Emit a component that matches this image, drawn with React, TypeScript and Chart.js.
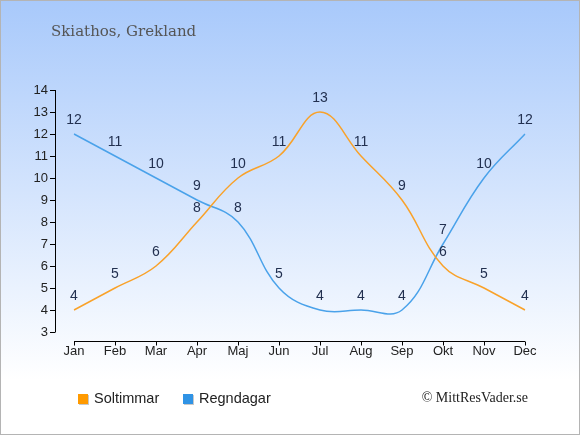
import React, { useEffect, useRef } from 'react';
import { Chart, registerables } from 'chart.js';

Chart.register(...registerables);

const months = ['Jan', 'Feb', 'Mar', 'Apr', 'Maj', 'Jun', 'Jul', 'Aug', 'Sep', 'Okt', 'Nov', 'Dec'];
const soltimmar = [4, 5, 6, 8, 10, 11, 13, 11, 9, 6, 5, 4];
const regndagar = [12, 11, 10, 9, 8, 5, 4, 4, 4, 7, 10, 12];
const yMin = 3;
const yMax = 14;
const titleText = 'Skiathos, Grekland';
const legendLabels = ['Soltimmar', 'Regndagar'];
const creditText = '\u00A9 MittResVader.se';

const ORANGE = '#f9a22a';
const BLUE = '#4aa2ea';
const LEGEND_ORANGE = '#ff9a00';
const LEGEND_BLUE = '#2f93e5';

const W = 580;
const H = 435;

const decorPlugin = {
  id: 'decor',
  beforeDraw(chart: any) {
    const ctx = chart.ctx;
    ctx.save();
    const g = ctx.createLinearGradient(0, 0, 0, 380);
    g.addColorStop(0, '#a8c9fb');
    g.addColorStop(1, '#ffffff');
    ctx.fillStyle = g;
    ctx.fillRect(0, 0, W, H);
    ctx.strokeStyle = '#b4b4b4';
    ctx.lineWidth = 1;
    ctx.strokeRect(0.5, 0.5, W - 1, H - 1);

    // title
    ctx.fillStyle = '#555555';
    ctx.font = '15px "DejaVu Serif"';
    ctx.textBaseline = 'alphabetic';
    ctx.textAlign = 'left';
    ctx.fillText(titleText, 51, 36);
    ctx.restore();
  },
  afterDraw(chart: any) {
    const ctx = chart.ctx;
    const xs = chart.scales.x;
    const ys = chart.scales.y;
    ctx.save();
    ctx.strokeStyle = '#000000';
    ctx.lineWidth = 1;
    // y axis
    const yAxisX = 55.5;
    ctx.beginPath();
    ctx.moveTo(yAxisX, ys.getPixelForValue(yMax));
    ctx.lineTo(yAxisX, ys.getPixelForValue(yMin));
    for (let v = yMin; v <= yMax; v++) {
      const py = Math.round(ys.getPixelForValue(v)) + 0.5;
      ctx.moveTo(50, py);
      ctx.lineTo(yAxisX, py);
    }
    ctx.stroke();
    // x axis
    const xAxisY = 341.5;
    ctx.beginPath();
    ctx.moveTo(xs.getPixelForValue(0), xAxisY);
    ctx.lineTo(xs.getPixelForValue(months.length - 1), xAxisY);
    for (let i = 0; i < months.length; i++) {
      const px = Math.round(xs.getPixelForValue(i)) + 0.5;
      ctx.moveTo(px, xAxisY);
      ctx.lineTo(px, xAxisY + 4);
    }
    ctx.stroke();

    // legend
    const items = [
      { label: legendLabels[0], color: LEGEND_ORANGE, x: 78 },
      { label: legendLabels[1], color: LEGEND_BLUE, x: 183 },
    ];
    ctx.font = '14.5px "Liberation Sans", Arial, sans-serif';
    ctx.textBaseline = 'middle';
    ctx.textAlign = 'left';
    for (const it of items) {
      ctx.fillStyle = '#c8c8c8';
      ctx.fillRect(it.x + 1, 394 + 1, 10, 10);
      ctx.fillStyle = it.color;
      ctx.fillRect(it.x, 394, 10, 10);
      ctx.fillStyle = '#222222';
      ctx.fillText(it.label, it.x + 16, 399);
    }

    // credit
    ctx.font = '14px "Liberation Serif", serif';
    ctx.fillStyle = '#222222';
    ctx.textAlign = 'right';
    ctx.fillText(creditText, 528, 398);
    ctx.restore();
  },
  afterDatasetsDraw(chart: any) {
    const ctx = chart.ctx;
    ctx.save();
    ctx.font = '14px "Liberation Sans", Arial, sans-serif';
    ctx.fillStyle = '#223050';
    ctx.textAlign = 'center';
    ctx.textBaseline = 'middle';
    chart.data.datasets.forEach((ds: any, di: number) => {
      const meta = chart.getDatasetMeta(di);
      meta.data.forEach((el: any, i: number) => {
        ctx.fillText(String(ds.data[i]), el.x, el.y - 13.5);
      });
    });
    ctx.restore();
  },
};

export default function App() {
  const ref = useRef<HTMLCanvasElement | null>(null);
  useEffect(() => {
    if (!ref.current) return;
    const chart = new Chart(ref.current, {
      type: 'line',
      data: {
        labels: months,
        datasets: [
          {
            label: legendLabels[0],
            data: soltimmar,
            borderColor: ORANGE,
            backgroundColor: ORANGE,
            borderWidth: 1.5,
            pointRadius: 0,
            tension: 0.4,
            fill: false,
          },
          {
            label: legendLabels[1],
            data: regndagar,
            borderColor: BLUE,
            backgroundColor: BLUE,
            borderWidth: 1.5,
            pointRadius: 0,
            tension: 0.4,
            fill: false,
          },
        ],
      },
      options: {
        responsive: false,
        animation: false,
        devicePixelRatio: 1,
        layout: { padding: { left: 0, top: 90, right: 55, bottom: 73 } },
        plugins: {
          legend: { display: false },
          tooltip: { enabled: false },
          title: { display: false },
        },
        scales: {
          x: {
            type: 'category',
            offset: false,
            grid: { display: false, drawTicks: false },
            border: { display: false },
            ticks: {
              color: '#222222',
              font: { family: '"Liberation Sans", Arial, sans-serif', size: 13 },
              padding: 12,
              maxRotation: 0,
              autoSkip: false,
            },
            afterFit: (s: any) => {
              s.height = 30;
            },
          },
          y: {
            min: yMin,
            max: yMax,
            grid: { display: false, drawTicks: false },
            border: { display: false },
            ticks: {
              stepSize: 1,
              color: '#222222',
              font: { family: '"Liberation Sans", Arial, sans-serif', size: 13 },
              padding: 26,
            },
            afterFit: (s: any) => {
              s.width = 74;
            },
          },
        },
      },
      plugins: [decorPlugin],
    } as any);
    return () => chart.destroy();
  }, []);
  return (
    <div style={{ position: 'absolute', left: 0, top: 0, width: W, height: H }}>
      <canvas ref={ref} width={W} height={H} style={{ width: W, height: H, display: 'block' }} />
    </div>
  );
}
